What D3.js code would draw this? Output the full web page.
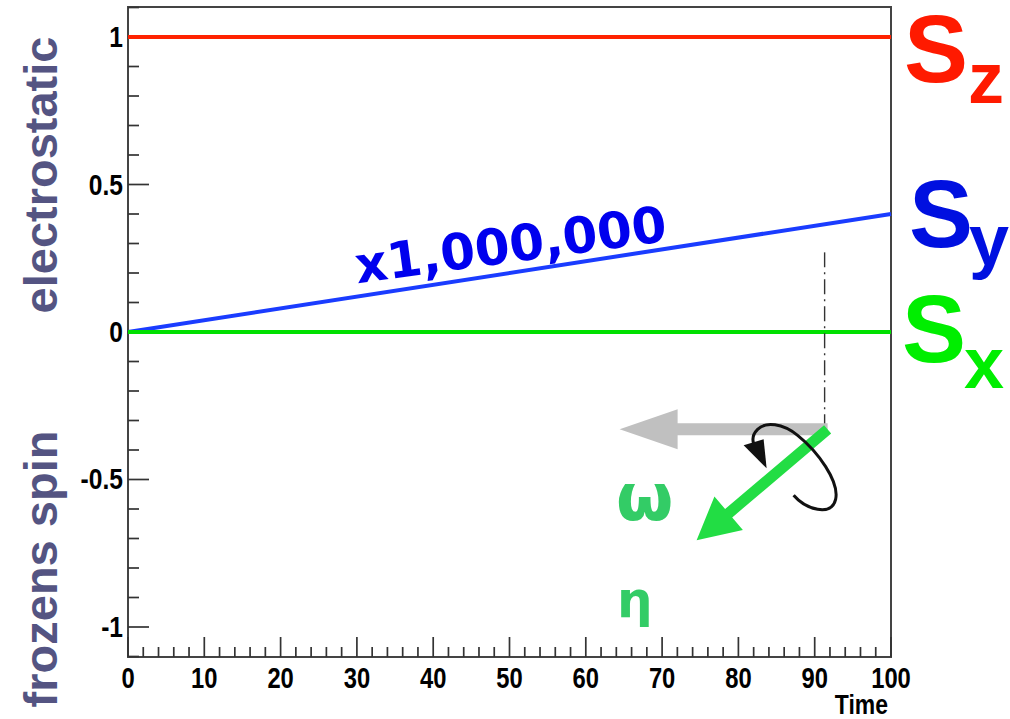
<!DOCTYPE html>
<html>
<head>
<meta charset="utf-8">
<script src="https://d3js.org/d3.v7.min.js"></script>
<style>
  body { margin: 0; background: #fff; }
  svg { display: block; }
</style>
</head>
<body>
<script>
// data
var times = [0, 100];
var szValues = [1, 1];
var syValues = [0, 0.4];   // scaled x1,000,000
var sxValues = [0, 0];
var xTicks = [0, 10, 20, 30, 40, 50, 60, 70, 80, 90, 100];
var yTicks = [-1, -0.5, 0, 0.5, 1];
var yTickLabels = ["-1", "-0.5", "0", "0.5", "1"];
var markerTime = 91.3;
var markerTop = 0.27, markerBottom = -0.33;

var W = 1010, H = 719;
var padL = 128, padR = 891, padT = 7, padB = 657;

var svg = d3.select("body").append("svg")
    .attr("width", W)
    .attr("height", H);

var x = d3.scaleLinear().domain([0, 100]).range([padL, padR]);
var y = d3.scaleLinear().domain([-1.1017, 1.1017]).range([padB, padT]);

var tickFont = "'Liberation Sans', Arial, sans-serif";

// frame
svg.append("rect")
    .attr("x", padL).attr("y", padT)
    .attr("width", padR - padL).attr("height", padB - padT)
    .attr("fill", "none")
    .attr("stroke", "#444")
    .attr("stroke-width", 2);

// y ticks (inside)
var yMinor = d3.range(-11, 12).map(d => d / 10);
svg.append("g").selectAll("line")
    .data(yMinor)
    .enter().append("line")
    .attr("x1", padL)
    .attr("x2", d => padL + (Math.abs(Math.round(d * 10)) % 5 === 0 ? 21 : 11))
    .attr("y1", d => y(d))
    .attr("y2", d => y(d))
    .style("stroke", "#333")
    .style("stroke-width", 1.7);

// x ticks (inside)
var xMinor = d3.range(0, 101, 2);
svg.append("g").selectAll("line")
    .data(xMinor)
    .enter().append("line")
    .attr("x1", d => x(d))
    .attr("x2", d => x(d))
    .attr("y1", padB)
    .attr("y2", d => padB - (d % 10 === 0 ? 20 : 10))
    .style("stroke", "#333")
    .style("stroke-width", 1.7);

// tick labels (condensed look)
svg.append("g").selectAll("text")
    .data(yTicks)
    .enter().append("text")
    .attr("transform", d => "translate(" + (padL - 5) + "," + (y(d) + 10) + ") scale(0.82,1)")
    .attr("text-anchor", "end")
    .style("font-family", tickFont)
    .style("font-weight", "bold")
    .style("font-size", "30px")
    .text((d, i) => yTickLabels[i]);

svg.append("g").selectAll("text")
    .data(xTicks)
    .enter().append("text")
    .attr("transform", d => "translate(" + x(d) + ",688) scale(0.82,1)")
    .attr("text-anchor", "middle")
    .style("font-family", tickFont)
    .style("font-weight", "bold")
    .style("font-size", "29px")
    .text(d => d);

svg.append("text")
    .attr("transform", "translate(888,714) scale(0.82,1)")
    .attr("text-anchor", "end")
    .style("font-family", tickFont)
    .style("font-weight", "bold")
    .style("font-size", "28px")
    .text("Time");

// axis titles
var titleColor = "#545482";
[["electrostatic", 175], ["frozens spin", 569]].forEach(function (t) {
    svg.append("text")
        .attr("transform", "translate(57," + t[1] + ") rotate(-90)")
        .attr("text-anchor", "middle")
        .style("font-family", "'Liberation Sans', Arial, sans-serif")
        .style("font-weight", "bold")
        .style("font-size", "47px")
        .style("fill", titleColor)
        .text(t[0]);
});

// series lines
var series = [
    {name: "z", values: szValues, color: "#ff2200"},
    {name: "y", values: syValues, color: "#1a3cff"},
    {name: "x", values: sxValues, color: "#00e000"}
];
var line = d3.line()
    .x((d, i) => x(times[i]))
    .y(d => y(d));

svg.append("g").selectAll("path")
    .data(series)
    .enter().append("path")
    .attr("d", d => line(d.values))
    .attr("fill", "none")
    .attr("stroke", d => d.color)
    .attr("stroke-width", 4);

// x1,000,000 label along the blue line
var ang = -Math.atan((y(syValues[0]) - y(syValues[1])) / (x(times[1]) - x(times[0]))) * 180 / Math.PI;
svg.append("text")
    .attr("transform", "translate(513,262) rotate(" + (ang + 1) + ")")
    .attr("text-anchor", "middle")
    .style("font-family", "'DejaVu Sans', sans-serif")
    .style("font-weight", "bold")
    .style("font-size", "50px")
    .style("fill", "#0000ee")
    .text("x1,000,000");

// S labels
var sLabels = [
    {sub: "z", color: "#ff1a00", sx: 904, sy: 82, bx: 968, by: 103},
    {sub: "y", color: "#0010e0", sx: 909, sy: 247, bx: 969, by: 265},
    {sub: "x", color: "#00ee00", sx: 902, sy: 362, bx: 964, by: 388}
];
sLabels.forEach(function (s) {
    svg.append("text")
        .attr("x", s.sx).attr("y", s.sy)
        .style("font-family", "'Liberation Sans', Arial, sans-serif")
        .style("font-weight", "bold")
        .style("font-size", "96px")
        .style("fill", s.color)
        .text("S");
    svg.append("text")
        .attr("x", s.bx).attr("y", s.by)
        .style("font-family", "'Liberation Sans', Arial, sans-serif")
        .style("font-weight", "bold")
        .style("font-size", "72px")
        .style("fill", s.color)
        .text(s.sub);
});

// dash-dot marker line
var mx = x(markerTime);
svg.append("line")
    .attr("x1", mx).attr("x2", mx)
    .attr("y1", y(markerTop)).attr("y2", y(markerBottom))
    .style("stroke", "#333")
    .style("stroke-width", 1.4)
    .style("stroke-dasharray", "15,5,2,5");

// spin / rotation sketch anchored at the marker
var ax = mx + 3, ay = y(markerBottom);
var g = svg.append("g").attr("transform", "translate(" + ax + "," + ay + ")");

// grey arrow
g.append("path")
    .attr("d", "M0,-6 L-150,-6 L-150,-20 L-208,0 L-150,20 L-150,6 L0,6 Z")
    .attr("fill", "#c0c0c0");

// green arrow
var gx = -131, gy = 111;
var len = Math.sqrt(gx * gx + gy * gy);
var gang = Math.atan2(gy, gx) * 180 / Math.PI;
g.append("path")
    .attr("transform", "rotate(" + gang + ")")
    .attr("d", "M0,-5.5 L" + (len - 42) + ",-5.5 L" + (len - 42) + ",-22 L" + len + ",0 L" + (len - 42) + ",22 L" + (len - 42) + ",5.5 L0,5.5 Z")
    .attr("fill", "#22dd44");

// black rotation arrow
g.append("path")
    .attr("d", "M-34,66 C-22,80 4,88 8,70 C12,52 -10,22 -30,6 C-45,-6 -62,-8 -70,0 C-74,4 -76,8 -74,14")
    .attr("fill", "none")
    .attr("stroke", "#111")
    .attr("stroke-width", 3);
g.append("path")
    .attr("d", "M-84,16 L-64,10 L-61,39 Z")
    .attr("fill", "#111");

// greek letters
svg.append("text")
    .attr("x", 616).attr("y", 520)
    .style("font-family", "'DejaVu Sans', sans-serif")
    .style("font-weight", "bold")
    .style("font-size", "66px")
    .style("fill", "#33cc66")
    .text("ω");
svg.append("text")
    .attr("x", 617).attr("y", 617)
    .style("font-family", "'DejaVu Sans', sans-serif")
    .style("font-weight", "bold")
    .style("font-size", "50px")
    .style("fill", "#33cc66")
    .text("η");
</script>
</body>
</html>
